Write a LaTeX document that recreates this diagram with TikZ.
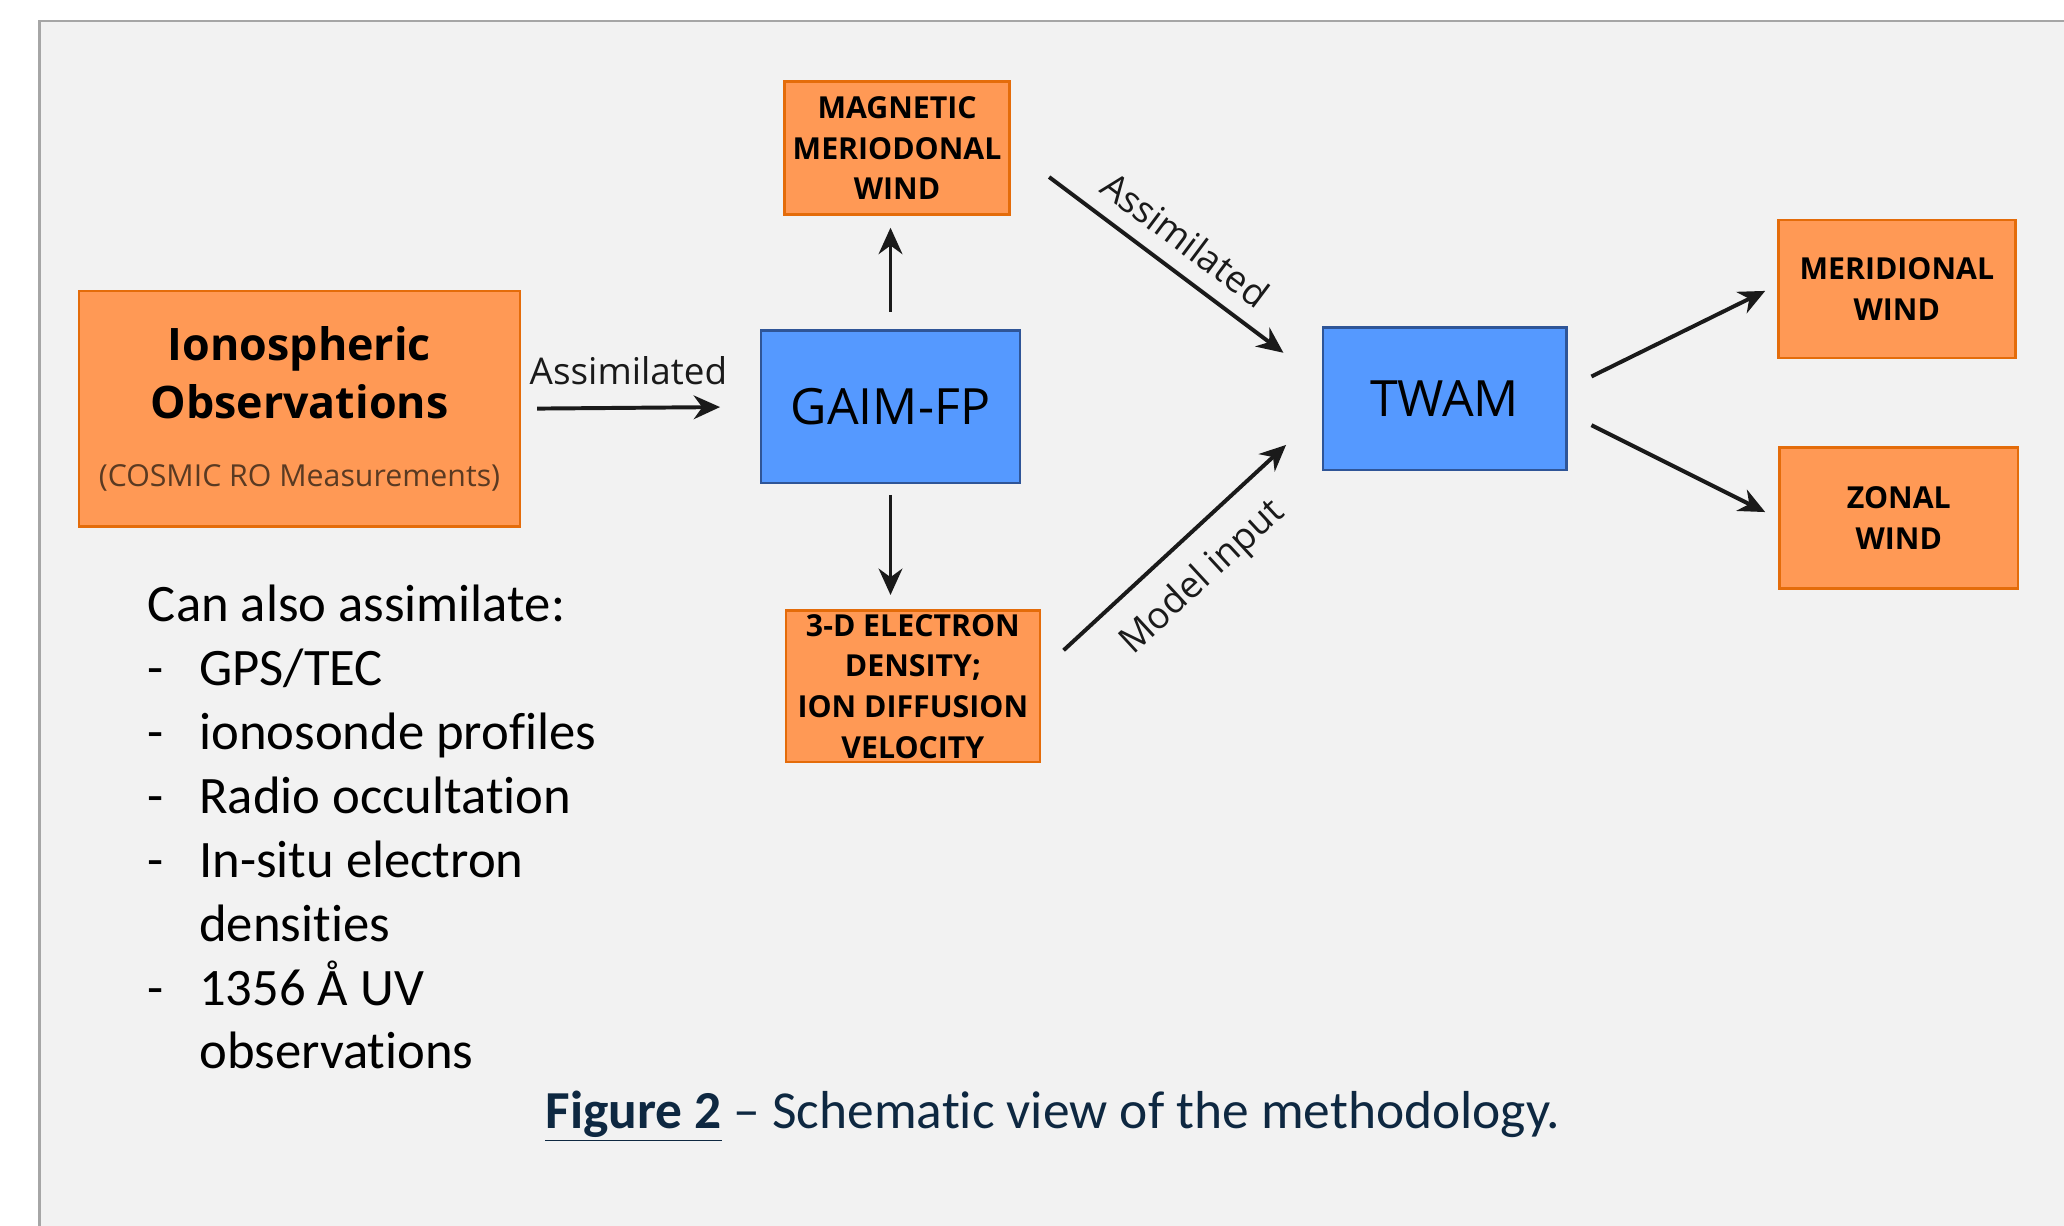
\documentclass[tikz,border=0pt]{standalone}
\usepackage{fontspec}
\setmainfont{Carlito}[Ligatures=NoCommon]
\newfontfamily\diagfont{Open Sans}
\usetikzlibrary{arrows.meta}

\definecolor{panelgray}{HTML}{F2F2F2}
\definecolor{panelline}{HTML}{A6A6A6}
\definecolor{boxorange}{HTML}{FF9955}
\definecolor{orangeline}{HTML}{E46C0A}
\definecolor{boxblue}{HTML}{5599FF}
\definecolor{blueline}{HTML}{2F5597}
\definecolor{arrowgray}{HTML}{1A1A1A}
\definecolor{captionblue}{HTML}{0E2841}
\definecolor{cosmicbrown}{HTML}{5A3A22}

\tikzstyle{line} = [draw=arrowgray, line width=1.5pt, -{Stealth[length=10pt, width=9pt]}]
\tikzstyle{orangebox} = [draw=orangeline, fill=boxorange, line width=1pt, inner sep=0pt, align=center, font=\diagfont\bfseries\fontsize{11.5}{15.5}\selectfont]
\tikzstyle{bluebox} = [draw=blueline, fill=boxblue, line width=1pt, inner sep=0pt, font=\diagfont\fontsize{19}{23}\selectfont]
\tikzstyle{arrowlabel} = [font=\diagfont\fontsize{14}{16}\selectfont, text=arrowgray, inner sep=2pt]
\tikzstyle{listtext} = [anchor=base west, inner sep=0pt, font=\fontsize{20}{24}\selectfont]

\begin{document}
\begin{tikzpicture}[x=0.5pt, y=-0.5pt]
    \useasboundingbox (0,0) rectangle (1568,931);
    \fill[white] (0,0) rectangle (1568,931);
    \fill[panelgray] (30,16) rectangle (1570,935);
    \draw[panelline, line width=1pt] (30,935) -- (30,16) -- (1570,16);

    \node[orangebox, minimum width=167.5pt, minimum height=89.5pt, font=\diagfont\bfseries\fontsize{17}{22}\selectfont] (iono) at (227.5,310.5)
        {Ionospheric\\Observations\\[4pt]{\mdseries\fontsize{11.5}{14}\selectfont\color{cosmicbrown}(COSMIC RO Measurements)}};
    \node[bluebox, minimum width=98.5pt, minimum height=58pt] (gaim) at (676.5,309) {GAIM-FP};
    \node[orangebox, minimum width=85.5pt, minimum height=50.5pt] (mag) at (681.5,112.5) {MAGNETIC\\MERIODONAL\\WIND};
    \node[orangebox, minimum width=96.5pt, minimum height=57.5pt] (elec) at (693.5,521.5) {3-D ELECTRON\\DENSITY;\\ION DIFFUSION\\VELOCITY};
    \node[bluebox, minimum width=92.5pt, minimum height=54pt] (twam) at (1097.5,303) {TWAM};
    \node[orangebox, minimum width=90pt, minimum height=52.5pt] (mer) at (1441,219.5) {MERIDIONAL\\WIND};
    \node[orangebox, minimum width=90.5pt, minimum height=53.5pt] (zon) at (1442.5,393.5) {ZONAL\\WIND};

    \path [line, shorten <=6pt, shorten >=15pt] (iono.east) -- (gaim.west) node [arrowlabel, pos=0.45, above=6pt] {Assimilated};
    \path [line, shorten <=6.5pt, shorten >=4.5pt] (gaim.north) -- (gaim.north |- mag.south);
    \path [line, shorten <=4pt, shorten >=5.5pt] (gaim.south) -- (gaim.south |- elec.north);
    \path [line] ([shift={(29,22)}]mag.east) -- ([shift={(-29,-35)}]twam.west) node [arrowlabel, midway, sloped, above=4pt] {Assimilated};
    \path [line] ([shift={(17,-27.5)}]elec.east) -- ([shift={(-27,35)}]twam.west) node [arrowlabel, midway, sloped, below=6pt] {Model input};
    \path [line] ([shift={(18,-17)}]twam.east) -- ([shift={(-9,1.5)}]mer.west);
    \path [line] ([shift={(18,20)}]twam.east) -- ([shift={(-10,-4.5)}]zon.west);

    \node[listtext] (also) at (112,472) {Can also assimilate:};
    \node[listtext] (gps) at (112,521) {\makebox[19.5pt][l]{-}GPS/TEC};
    \node[listtext] (sonde) at (112,569.5) {\makebox[19.5pt][l]{-}ionosonde profiles};
    \node[listtext] (radio) at (112,618) {\makebox[19.5pt][l]{-}Radio occultation};
    \node[listtext] (insitu) at (112,666.5) {\makebox[19.5pt][l]{-}In-situ electron};
    \node[listtext] (dens) at (151,715) {densities};
    \node[listtext] (uv) at (112,763.5) {\makebox[19.5pt][l]{-}1356 Å UV};
    \node[listtext] (obs) at (151,812) {observations};

    \node[listtext, text=captionblue, font=\fontsize{20.3}{24}\selectfont] (caption) at (414,857) {\underline{\textbf{Figure 2}} – Schematic view of the methodology.};
\end{tikzpicture}
\end{document}
